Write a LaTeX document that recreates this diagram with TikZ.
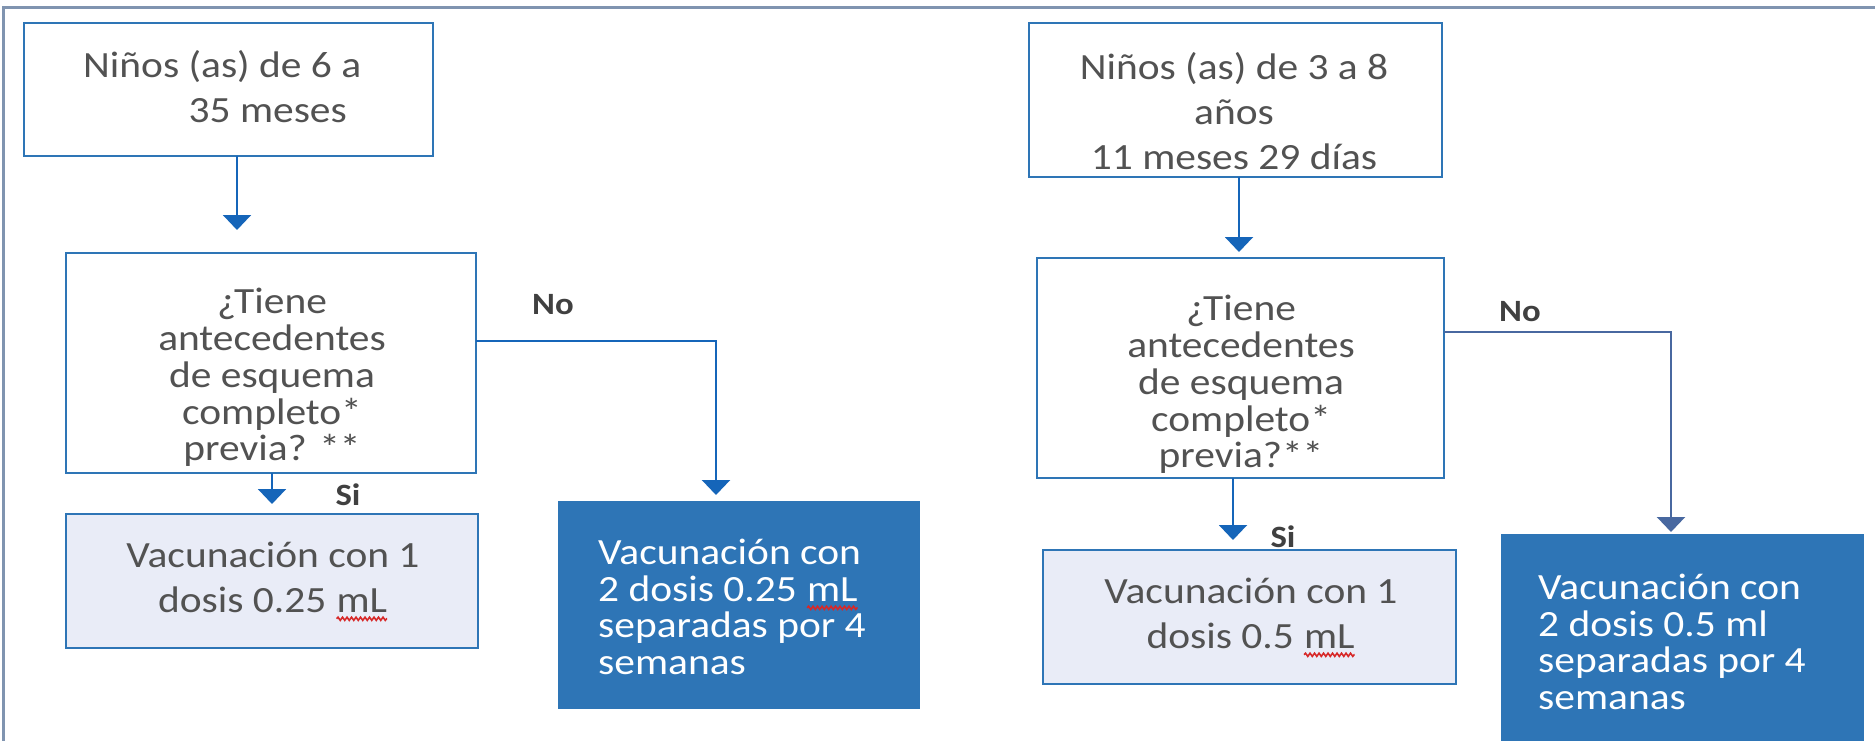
\documentclass[tikz,border=0pt]{standalone}
\usepackage{fontspec}
\setmainfont{Carlito}[FakeStretch=1.12]
\usetikzlibrary{arrows.meta,decorations.pathmorphing}
\definecolor{boxblue}{RGB}{46,117,182}
\definecolor{arrblue}{RGB}{21,101,185}
\definecolor{arrgray}{RGB}{72,104,160}
\definecolor{lightfill}{RGB}{233,236,247}
\definecolor{darkfill}{RGB}{46,117,182}
\definecolor{textgray}{RGB}{82,82,82}
\definecolor{labelgray}{RGB}{64,64,64}
\definecolor{framecol}{RGB}{128,148,176}
\definecolor{spellred}{RGB}{215,40,40}
\newcommand\redsq[1]{\tikz[baseline=(w.base)]{\node[inner sep=0pt,outer sep=0pt,anchor=base](w){#1};\draw[spellred,line width=1.6pt,decorate,decoration={snake,amplitude=1.6pt,segment length=4.5pt}]([yshift=-6.5pt]w.base west)--([yshift=-6.5pt]w.base east);}}
\begin{document}
\begin{tikzpicture}[x=1pt,y=-1pt,
  box/.style={draw=boxblue,line width=2.5pt,inner sep=0pt,outer sep=0pt,fill=white},
  lbox/.style={box,fill=lightfill},
  dbox/.style={box,draw=darkfill,fill=darkfill},
  bodytxt/.style={text=textgray,inner sep=0pt,font=\fontsize{37}{45}\selectfont},
  qtxt/.style={text=textgray,inner sep=0pt,align=center,font=\fontsize{37}{36.8}\selectfont},
  dtxt/.style={text=white,inner sep=0pt,align=left,font=\fontsize{37}{36.5}\selectfont},
  lbl/.style={text=labelgray,inner sep=0pt,font=\fontsize{31}{36}\selectfont\bfseries},
  arr/.style={draw=arrblue,line width=2.2pt,-{Triangle[width=28pt,length=15pt]}},
  noline/.style={arr,line width=2.5pt}
]
\useasboundingbox (0,0) rectangle (1875,741);
% frame
\draw[framecol,line width=3pt] (3,741) -- (3,8) -- (1875,8);

% left flow
\node[box,minimum width=409pt,minimum height=133pt] (a1) at (228.5,89.5) {};
\node[box,minimum width=410pt,minimum height=220pt] (q1) at (271,363) {};
\node[lbox,minimum width=412pt,minimum height=134pt] (r1) at (272,581) {};
\node[dbox,minimum width=360pt,minimum height=206pt] (b1) at (739,605) {};

\node[bodytxt,align=left,anchor=west] (ta1) at (83,87) {Niños (as) de 6 a\\\hphantom{Niños }35 meses};
\node[qtxt] (tq1) at (272,377.5) {¿Tiene\\antecedentes\\de esquema\\completo*\\previa? **};
\node[bodytxt,align=center] (tr1) at (273,581.5) {Vacunación con 1\\dosis 0.25 \redsq{mL}};
\node[dtxt,anchor=west] (tb1) at (598,607) {Vacunación con\\2 dosis 0.25 \redsq{mL}\\separadas por 4\\semanas};

\draw[arr,shorten >=23pt] ([xshift=8.5pt]a1.south) -- ([xshift=8.5pt]a1.south |- q1.north);
\draw[arr,shorten >=10pt] ([xshift=1pt]q1.south) -- ([xshift=1pt]q1.south |- r1.north);
\draw[noline,shorten >=7pt] ([yshift=22pt]q1.east) -| ([xshift=-23pt]b1.north);
\node[lbl] (no1) at (553,305) {No};
\node[lbl] (si1) at (348,495) {Si};

% right flow
\node[box,minimum width=413pt,minimum height=154pt] (a2) at (1235.5,100) {};
\node[box,minimum width=407pt,minimum height=220pt] (q2) at (1240.5,368) {};
\node[lbox,minimum width=413pt,minimum height=134pt] (r2) at (1249.5,617) {};
\node[dbox,minimum width=361pt,minimum height=210pt] (b2) at (1682.5,640) {};

\node[bodytxt,align=center] (ta2) at (1234,111) {Niños (as) de 3 a 8\\años\\11 meses 29 días};
\node[qtxt] (tq2) at (1241,384.5) {¿Tiene\\antecedentes\\de esquema\\completo*\\previa?**};
\node[bodytxt,align=center] (tr2) at (1251,617.5) {Vacunación con 1\\dosis 0.5 \redsq{mL}};
\node[dtxt,anchor=west] (tb2) at (1538,642) {Vacunación con\\2 dosis 0.5 ml\\separadas por 4\\semanas};

\draw[arr,shorten >=6pt] ([xshift=3.5pt]a2.south) -- ([xshift=3.5pt]a2.south |- q2.north);
\draw[arr,shorten >=10pt] ([xshift=-7.5pt]q2.south) -- ([xshift=-7.5pt]q2.south |- r2.north);
\draw[noline,draw=arrgray,shorten >=3pt] ([yshift=36pt]q2.east) -| ([xshift=-11.5pt]b2.north);
\node[lbl] (no2) at (1520,312) {No};
\node[lbl] (si2) at (1283,537) {Si};
\end{tikzpicture}
\end{document}
